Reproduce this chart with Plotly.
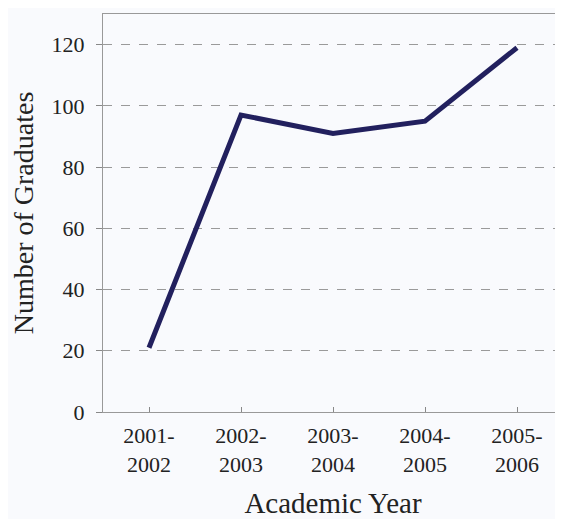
import plotly.graph_objects as go

years = ["2001-<br>2002", "2002-<br>2003", "2003-<br>2004", "2004-<br>2005", "2005-<br>2006"]
graduates = [21, 97, 91, 95, 119]

fig = go.Figure()
fig.add_trace(go.Scatter(x=years, y=graduates, mode="lines",
                         line=dict(color="#22205e", width=5)))

# page has an 8px body margin, so the figure is a bit smaller than the window
fig.update_layout(
    width=555, height=511,
    margin=dict(l=95, r=0, t=6, b=107, autoexpand=False),
    paper_bgcolor="#f9fafd", plot_bgcolor="#f9fafd",
    font=dict(family="Liberation Serif", size=22, color="#222222"),
    showlegend=False,
)
fig.update_xaxes(
    range=[-0.5, 4.5], showgrid=False, ticks="inside", ticklen=5,
    tickcolor="#888888", ticklabelstandoff=4,
    showline=True, linecolor="#999999", mirror=True,
    automargin=False,
    title=dict(text="Academic Year", font=dict(size=29), standoff=20),
)
fig.update_yaxes(
    range=[0, 130], tickvals=[0, 20, 40, 60, 80, 100, 120],
    showgrid=True, gridcolor="#9a9a9a", griddash="dash", gridwidth=1,
    ticks="outside", ticklen=6, tickcolor="#888888", ticklabelstandoff=7,
    showline=True, linecolor="#999999", mirror=False, zeroline=False,
    automargin=False,
    title=dict(text="Number of Graduates", font=dict(size=28), standoff=12),
)

fig.write_html("out.html")
